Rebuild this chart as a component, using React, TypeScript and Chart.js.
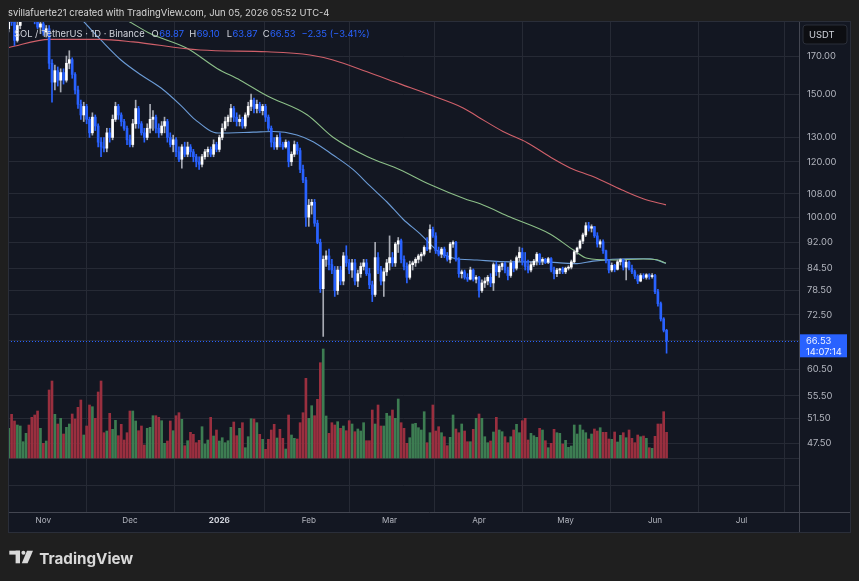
import React, { useEffect, useRef } from "react";
import { Chart, registerables } from "chart.js";

Chart.register(...registerables);

// Daily SOL/USDT candles. Day 0 = 1 Nov 2025; first candle = 20 Oct 2025 (day -12), last = 5 Jun 2026 (day 216).
const firstDay = -12;

const opens = [
  186, 194, 190, 179, 188, 196, 203, 205, 198, 195, 191, 187,
  189, 184, 186, 166, 156, 162, 157, 161, 157, 166, 168, 160,
  152, 145, 140, 144, 138, 132, 139, 135, 128, 126, 125.5, 132,
  130, 138, 144, 140, 137, 134, 129, 127, 136, 143, 136, 132,
  130, 134, 138, 139, 134, 132, 135, 137, 130, 127, 129, 124,
  121, 126, 123, 126, 124, 122, 120, 119, 122, 124, 125, 123,
  127, 125, 130, 134, 137, 139, 143, 139, 137, 138, 135, 140,
  144, 147, 143, 145, 142, 144, 139, 134, 128, 126, 130, 127,
  126, 128, 120, 123, 127, 124.5, 117, 113, 100, 104, 105, 98,
  92, 79, 87, 88, 85.5, 84, 78.5, 84, 81, 88, 86, 84,
  86, 81, 83, 85, 86, 83, 80, 77.5, 87.5, 84, 81, 83.5,
  86, 87.5, 86, 91.5, 92.5, 87, 85, 82, 85.5, 86, 87, 88,
  88.5, 90.5, 90, 96, 94, 89.5, 88.5, 90, 88, 87, 91.5, 92,
  87, 83, 83.5, 82, 81.5, 84, 81.5, 82, 78.5, 80.5, 81, 82,
  80.5, 85.5, 83.5, 85, 85.8, 84, 82.5, 86, 84.5, 87.5, 89, 86.5,
  85, 84, 85.5, 86.5, 88.5, 86.5, 87, 86.2, 87.2, 84, 83, 84,
  84.3, 83.5, 84.5, 84.8, 86.3, 89.2, 90.3, 92.4, 94.3, 97.2, 96.4, 96.9,
  94, 91.5, 92.2, 89.5, 86.8, 84, 85.3, 84.2, 86.3, 86.9, 84.8, 86.2,
  84.5, 83.5, 82.3, 81, 82.5, 82, 82.7, 82.2, 82.5, 78.2, 75.2, 71.5, 68.87,
];

const highs = [
  196, 197, 192, 190, 198, 206, 210, 208, 201, 197, 194, 191,
  190, 188, 188, 168, 165, 164, 163, 163, 170, 173, 169, 161,
  154, 147, 146, 145, 139, 141, 140, 136, 130, 130, 134, 134,
  140, 146, 145, 141, 138, 135, 131, 138, 147, 144, 137, 134,
  136, 145, 142, 140, 136, 137, 139, 138, 132, 131, 130, 126,
  127, 128, 128, 127, 125, 123, 122, 123, 125, 126, 126, 129,
  128, 131, 136, 139, 140, 145, 144, 141, 140, 139, 141, 146,
  150, 148, 147, 146, 145, 145, 140, 135, 130, 131, 132, 128,
  129, 128.5, 124, 128.5, 128, 125.5, 118.7, 114, 106, 106, 106, 99,
  93, 88, 89.5, 90, 87, 85, 85, 85, 89, 91, 87, 87,
  87, 84, 86, 87, 87, 84.5, 81, 92, 89, 85, 84.5, 87,
  94, 89, 92, 93.5, 93, 88, 86, 86.5, 86.5, 87.5, 88.5, 89,
  91, 93.5, 97.5, 96.8, 95, 90.6, 90.5, 90.6, 89, 92, 92.5, 92.3,
  87.5, 84, 84, 83, 84.8, 84.3, 82.5, 82.3, 81.3, 81.9, 82.5, 83,
  86, 86.3, 85.5, 86, 86.2, 84.8, 86.8, 86.5, 88, 90.6, 90.3, 89,
  86.8, 86.3, 87, 89, 88.7, 87.5, 87.3, 87.6, 87.5, 84.8, 84.5, 84.5,
  84.8, 84.8, 85.2, 86.8, 89.7, 90.6, 92.8, 94.9, 98.2, 98.3, 97.5, 97,
  95, 92.8, 92.8, 89.7, 87, 86, 85.6, 86.8, 87.2, 87, 86.8, 86.6,
  85.4, 84, 82.7, 83, 83, 83, 83, 83, 82.8, 78.8, 75.6, 71.8, 69.1,
];

const lows = [
  184, 188, 176, 178, 186, 194, 200, 196, 193, 189, 186, 183,
  182, 181, 163, 146, 152, 154, 151, 155, 156, 163, 158, 150,
  143, 138, 137, 136, 130, 131, 133, 126, 122, 124, 124, 128,
  129, 137, 138, 135, 133, 127, 126, 126, 134, 134, 131, 128,
  129, 132, 133, 132, 130, 131, 132, 128, 126, 124, 122, 120,
  117.5, 122, 122, 122, 120, 118, 117, 118, 121, 122, 122, 122,
  124, 124, 129, 133, 135, 137, 137, 135, 135, 134, 134, 139,
  142, 141, 141, 141, 140, 137, 133, 126, 125, 125, 126, 125,
  125.5, 118, 118.5, 122, 123, 115.8, 112, 97, 97, 101, 97, 91.6,
  78, 67.5, 85, 84, 83, 77, 77.5, 80, 80, 85, 83, 82,
  80, 79.5, 82, 84, 82.5, 79, 75.7, 77, 83, 80, 77, 82.5,
  84, 85, 85, 89, 86, 84, 80.5, 81.5, 84, 85, 86, 86.5,
  88, 89.5, 89, 93.5, 88.7, 88, 87.5, 87.5, 86.5, 86, 90.5, 86.5,
  82, 81.8, 81.5, 80.9, 81.3, 81, 80.5, 76.8, 78, 79.3, 80, 79.5,
  78.5, 82.5, 82, 84, 83.2, 81.3, 82, 83.5, 84, 86.5, 85.4, 84,
  83.2, 83.5, 85, 85.4, 85.5, 85.5, 85.8, 85.8, 83.5, 81.6, 82.2, 83,
  83, 83, 84, 84.3, 86, 88.5, 90, 91.6, 93.8, 95.5, 95.2, 93.5,
  90.6, 90.5, 88.7, 86, 83.2, 83.5, 83.5, 84, 85.4, 84, 81.3, 84,
  83, 81.6, 80.3, 80.8, 81.6, 81.5, 81.5, 81.8, 77.7, 74.6, 71, 68.5, 63.87,
];

const closes = [
  194, 190, 179, 188, 196, 203, 205, 198, 195, 191, 187, 189,
  184, 186, 166, 156, 162, 157, 161, 157, 166, 168, 160, 152,
  145, 140, 144, 138, 132, 139, 135, 128, 126, 125.5, 132, 130,
  138, 144, 140, 137, 134, 129, 127, 136, 143, 136, 132, 130,
  134, 138, 139, 134, 132, 135, 137, 130, 127, 129, 124, 121,
  126, 123, 126, 124, 122, 120, 119, 122, 124, 125, 123, 127,
  125, 130, 134, 137, 139, 143, 139, 137, 138, 135, 140, 144,
  147, 143, 145, 142, 144, 139, 134, 128, 126, 130, 127, 126,
  128, 120, 123, 127, 124.5, 117, 113, 100, 104, 105, 98, 92,
  79, 87, 88, 85.5, 84, 78.5, 84, 81, 88, 86, 84, 86,
  81, 83, 85, 86, 83, 80, 77.5, 87.5, 84, 81, 83.5, 86,
  87.5, 86, 91.5, 92.5, 87, 85, 82, 85.5, 86, 87, 88, 88.5,
  90.5, 90, 96, 94, 89.5, 88.5, 90, 88, 87, 91.5, 92, 87,
  83, 83.5, 82, 81.5, 84, 81.5, 82, 78.5, 80.5, 81, 82, 80.5,
  85.5, 83.5, 85, 85.8, 84, 82.5, 86, 84.5, 87.5, 89, 86.5, 85,
  84, 85.5, 86.5, 88.5, 86.5, 87, 86.2, 87.2, 84, 83, 84, 84.3,
  83.5, 84.5, 84.8, 86.3, 89.2, 90.3, 92.4, 94.3, 97.2, 96.4, 96.9, 94,
  91.5, 92.2, 89.5, 86.8, 84, 85.3, 84.2, 86.3, 86.9, 84.8, 86.2, 84.5,
  83.5, 82.3, 81, 82.5, 82, 82.7, 82.2, 82.5, 78.2, 75.2, 71.5, 68.88, 66.53,
];

const volumes = [
  29.7, 43.7, 37, 33, 32, 16.3, 24.7, 33, 40.7, 43, 47, 29.7,
  14.7, 17, 68, 77, 43.7, 34, 39.7, 24, 30.7, 34, 44, 39,
  50.7, 58, 23, 32, 53, 51.3, 39.7, 66, 77, 25.3, 27, 44.7,
  28.7, 37.7, 22.3, 33.7, 18, 25.3, 47, 47, 37, 27.3, 32, 13,
  29.7, 30.7, 42.3, 42.3, 40.7, 37.3, 14.7, 17, 37, 27.3, 42.3, 45.3,
  38.7, 12.3, 17.3, 25.7, 23.7, 15.3, 17.7, 31.3, 14, 18, 40.7, 22,
  28, 17, 20.3, 15.3, 17.3, 30.7, 36, 22.3, 29.7, 35.3, 10.3, 21.3,
  39.3, 39, 35.3, 23.7, 18.7, 8.7, 18.7, 28, 33.7, 20, 28.7, 19.7,
  9, 43, 23, 19.7, 19, 35.3, 45.3, 79.7, 39.7, 52.3, 42.3, 58.7,
  95.3, 109, 42, 24.7, 35.3, 33, 36.3, 29.7, 32, 27.3, 37.3, 34,
  26.3, 29, 27, 35.3, 17.3, 17.3, 48, 34, 53, 32, 32, 44.7,
  42, 48, 39.7, 59, 35.3, 29.7, 14.7, 20.3, 34, 34.7, 30.3, 28,
  46.3, 15.3, 25.3, 53, 27, 31.3, 25.3, 21.3, 12.3, 20.7, 43, 29,
  25.3, 34, 27, 16.3, 16.3, 28.7, 39.7, 44, 39.7, 21.3, 15.3, 17,
  26, 40.7, 28, 26.3, 21.3, 15.3, 21.3, 28, 33.7, 25.3, 37.3, 39.7,
  18, 24.7, 22.3, 20.7, 29.7, 28, 17.3, 10.3, 14.7, 28.7, 25.3, 24.7,
  14, 17.7, 10.7, 12, 33, 24, 33, 28, 25.3, 19, 24, 29,
  27, 30.3, 25.7, 25.7, 19, 18.7, 26, 16, 22.7, 25.3, 20.3, 28,
  19.7, 15.3, 23, 21.3, 22, 19.7, 10.3, 9.7, 21.7, 34, 34, 46.3, 25.7,
];

// Moving averages (day, value)
const maFastDays = [8, 13.8, 20, 26.9, 33.9, 40.8, 47.8, 52.6, 60.6, 72.7, 79.6, 87.9, 93.5, 100.4, 107.4, 113.2, 119.1, 124.7, 130.6, 136.5, 142, 150.3, 161.8, 173.2, 179.1, 185, 190.5, 202.3, 210.3, 215.8];
const maFastValues = [202, 190.8, 179.1, 167.8, 159.7, 153, 144.3, 137.9, 131.9, 132.3, 132.6, 131.1, 128.2, 122.7, 116.9, 110.8, 105.1, 99.3, 94.6, 89.6, 87.4, 86.8, 86.3, 86.3, 86, 85.8, 86.5, 87.2, 87.2, 85.9];
const maMidDays = [20, 29.4, 37, 49.8, 60.2, 68.2, 77.5, 91.4, 100.4, 112.2, 123.6, 134, 146.9, 151.4, 161.8, 175.6, 183.6, 188.5, 196.4, 207.9, 212.7, 215.8];
const maMidValues = [200, 190.8, 183.1, 174.4, 163.2, 157, 149.1, 140.1, 130.1, 122.1, 116.9, 111.3, 105.9, 104.5, 100, 94.6, 89.8, 87.3, 86.8, 87.1, 86.9, 85.9];
const maSlowDays = [-12.2, 2.3, 19.7, 31.1, 54.3, 77.5, 92.4, 100.4, 112.2, 123.6, 134, 145.5, 150.7, 159.3, 167.7, 176.7, 182.6, 190.5, 200.6, 207.9, 215.8];
const maSlowValues = [174.7, 179.6, 179.6, 178.1, 173.4, 172.4, 170.6, 167.8, 161.4, 155.1, 149.6, 143.3, 139.1, 132.6, 127.8, 121.2, 117.6, 114.3, 109.3, 106.2, 104.1];

const monthTickDays = [0, 30, 61, 92, 120, 151, 181, 212, 242];
const monthTickLabels = ["Nov", "Dec", "2026", "Feb", "Mar", "Apr", "May", "Jun", "Jul"];

const priceTicks = [170, 150, 130, 120, 108, 100, 92, 84.5, 78.5, 72.5, 66.5, 60.5, 55.5, 51.5, 47.5, 45.16, 41.37];
const priceTickLabels = ["170.00", "150.00", "130.00", "120.00", "108.00", "100.00", "92.00", "84.50", "78.50", "72.50", "", "60.50", "55.50", "51.50", "47.50", "", ""];

const headerText = "svillafuerte21 created with TradingView.com, Jun 05, 2026 05:52 UTC-4";
const symbolText = "SOL / TetherUS · 1D · Binance";
const countdownText = "14:07:14";
const currencyText = "USDT";

const FONT = "Inter, 'Noto Sans', 'DejaVu Sans', sans-serif";

export default function App() {
  const ref = useRef<HTMLCanvasElement>(null);

  useEffect(() => {
    const canvas = ref.current;
    if (!canvas) return;
    const mctx = document.createElement("canvas").getContext("2d")!;
    const fitSize = (text: string, weight: string, target: number) => {
      mctx.font = `${weight} 10px ${FONT}`;
      return (10 * target) / mctx.measureText(text).width;
    };
    const axisSize = fitSize("170.00", "400", 29);
    const timeSize = fitSize("Nov", "400", 15.5);
    const headerSize = fitSize(headerText, "400", 322);
    const legendSize = fitSize(symbolText, "400", 131);
    const logoSize = fitSize("TradingView", "700", 94);

    const n = closes.length;
    const days = closes.map((_, i) => firstDay + i);
    const up = closes.map((c, i) => c >= opens[i]);
    const last = n - 1;
    const lastClose = closes[last];
    const change = closes[last] - closes[last - 1];
    const changePct = (change / closes[last - 1]) * 100;
    const fmtSigned = (v: number) => (v < 0 ? "\u2212" : "+") + Math.abs(v).toFixed(2);

    const wickData = days.map((d, i) => ({ x: d, y: [lows[i], highs[i]] }));
    const bodyData = days.map((d, i) => ({ x: d, y: [Math.min(opens[i], closes[i]), Math.max(opens[i], closes[i])] }));
    const volData = days.map((d, i) => ({ x: d, y: volumes[i] }));
    const toPts = (ds: number[], vs: number[]) => ds.map((d, i) => ({ x: d, y: vs[i] }));

    const overlay = {
      id: "overlay",
      beforeDraw(chart: any) {
        const ctx = chart.ctx;
        const ys = chart.scales.y;
        const xs = chart.scales.x;
        ctx.save();
        ctx.fillStyle = "#1f1f1f";
        ctx.fillRect(0, 0, chart.width, chart.height);
        ctx.fillStyle = "#131722";
        ctx.fillRect(chart.chartArea.left, chart.chartArea.top, ys.right - chart.chartArea.left, xs.bottom - chart.chartArea.top);
        ctx.restore();
      },
      beforeDatasetsDraw(chart: any) {
        const ctx = chart.ctx;
        const a = chart.chartArea;
        const y = Math.round(chart.scales.y.getPixelForValue(lastClose)) + 0.5;
        ctx.save();
        ctx.strokeStyle = "#2962ff";
        ctx.lineWidth = 1;
        ctx.setLineDash([1, 2]);
        ctx.beginPath();
        ctx.moveTo(a.left, y);
        ctx.lineTo(a.right, y);
        ctx.stroke();
        ctx.restore();
      },
      afterDraw(chart: any) {
        const ctx = chart.ctx;
        const a = chart.chartArea;
        const ys = chart.scales.y;
        const xs = chart.scales.x;
        ctx.save();
        // separators
        ctx.strokeStyle = "#434651";
        ctx.lineWidth = 1;
        ctx.beginPath();
        ctx.moveTo(a.right + 0.5, a.top);
        ctx.lineTo(a.right + 0.5, xs.bottom);
        ctx.moveTo(a.left, a.bottom + 0.5);
        ctx.lineTo(ys.right, a.bottom + 0.5);
        ctx.stroke();
        ctx.strokeStyle = "#2a2e39";
        ctx.strokeRect(a.left + 0.5, a.top + 0.5, ys.right - a.left - 1, xs.bottom - a.top - 1);

        // price label
        const py = ys.getPixelForValue(lastClose);
        ctx.fillStyle = "#2962ff";
        ctx.fillRect(a.right + 1, py - 6.5, 47, 23);
        ctx.fillStyle = "#eef2ff";
        ctx.font = `400 ${axisSize}px ${FONT}`;
        ctx.textBaseline = "middle";
        ctx.textAlign = "left";
        ctx.fillText(lastClose.toFixed(2), a.right + 7, py + 0.5);
        ctx.fillText(countdownText, a.right + 7, py + 11);

        // currency box
        ctx.fillStyle = "#0d0e12";
        ctx.strokeStyle = "#2a2e39";
        ctx.beginPath();
        (ctx as any).roundRect(a.right + 4, 25, 44, 19, 3);
        ctx.fill();
        ctx.stroke();
        ctx.fillStyle = "#d1d4dc";
        ctx.font = `400 ${axisSize}px ${FONT}`;
        ctx.fillText(currencyText, a.right + 10, 35);

        // header
        ctx.fillStyle = "#d6d6d6";
        ctx.font = `400 ${headerSize}px ${FONT}`;
        ctx.fillText(headerText, 8, 13);

        // legend
        ctx.font = `400 ${legendSize}px ${FONT}`;
        const ly = 34;
        ctx.fillStyle = "#d1d4dc";
        ctx.fillText(symbolText, 14, ly);
        const parts: [string, number, number][] = [
          ["O", 151.5, opens[last]],
          ["H", 189.3, highs[last]],
          ["L", 226.7, lows[last]],
          ["C", 262.7, closes[last]],
        ];
        parts.forEach(([k, x, v]) => {
          ctx.fillStyle = "#d1d4dc";
          ctx.fillText(k, x, ly);
          const w = ctx.measureText(k).width;
          ctx.fillStyle = "#2962ff";
          ctx.fillText(v.toFixed(2), x + w + 0.5, ly);
        });
        ctx.fillStyle = "#2962ff";
        ctx.fillText(`${fmtSigned(change)} (${fmtSigned(changePct)}%)`, 301.5, ly);

        // TradingView logo
        ctx.fillStyle = "#d9d9d9";
        ctx.fillRect(9.3, 550.7, 10.7, 3.9);
        ctx.fillRect(15.6, 550.7, 4.4, 12.6);
        ctx.beginPath();
        ctx.arc(23.4, 552.7, 2, 0, Math.PI * 2);
        ctx.fill();
        ctx.beginPath();
        ctx.moveTo(27, 550.7);
        ctx.lineTo(33, 550.7);
        ctx.lineTo(27.6, 563.3);
        ctx.lineTo(21.8, 563.3);
        ctx.closePath();
        ctx.fill();
        ctx.font = `700 ${logoSize}px ${FONT}`;
        ctx.textBaseline = "alphabetic";
        ctx.fillText("TradingView", 39.3, 563.5);
        ctx.restore();
      },
    };

    const chart = new Chart(canvas, {
      type: "bar",
      data: {
        datasets: [
          {
            type: "bar",
            label: "Volume",
            data: volData as any,
            yAxisID: "yv",
            backgroundColor: up.map((u) => (u ? "#3d7d52" : "#9a2f3f")),
            barThickness: 2,
            grouped: false,
            order: 10,
          } as any,
          {
            type: "line",
            label: "MA slow",
            data: toPts(maSlowDays, maSlowValues) as any,
            yAxisID: "y",
            borderColor: "#d0606a",
            borderWidth: 1.1,
            pointRadius: 0,
            cubicInterpolationMode: "monotone",
            order: 6,
          } as any,
          {
            type: "line",
            label: "MA mid",
            data: toPts(maMidDays, maMidValues) as any,
            yAxisID: "y",
            borderColor: "#8cbf88",
            borderWidth: 1.1,
            pointRadius: 0,
            cubicInterpolationMode: "monotone",
            order: 6,
          } as any,
          {
            type: "line",
            label: "MA fast",
            data: toPts(maFastDays, maFastValues) as any,
            yAxisID: "y",
            borderColor: "#6b9bd6",
            borderWidth: 1.1,
            pointRadius: 0,
            cubicInterpolationMode: "monotone",
            order: 6,
          } as any,
          {
            type: "bar",
            label: "Wicks",
            data: wickData as any,
            yAxisID: "y",
            backgroundColor: up.map((u) => (u ? "#a7aab3" : "#2962ff")),
            barThickness: 1,
            grouped: false,
            order: 2,
          } as any,
          {
            type: "bar",
            label: "Bodies",
            data: bodyData as any,
            yAxisID: "y",
            backgroundColor: up.map((u) => (u ? "#ffffff" : "#2962ff")),
            barThickness: 2,
            minBarLength: 1,
            grouped: false,
            order: 1,
          } as any,
        ],
      },
      options: {
        responsive: false,
        animation: false,
        devicePixelRatio: 1,
        events: [],
        layout: { padding: { left: 8, top: 21, right: 8, bottom: 48 } },
        plugins: { legend: { display: false }, tooltip: { enabled: false } },
        scales: {
          x: {
            type: "linear",
            min: -12.25,
            max: 261.9,
            offset: false,
            afterBuildTicks: (scale: any) => {
              scale.ticks = monthTickDays.map((v) => ({ value: v }));
            },
            afterFit: (scale: any) => {
              scale.height = 21;
            },
            ticks: {
              autoSkip: false,
              maxRotation: 0,
              padding: 4,
              color: (ctx: any) => (ctx.tick && ctx.tick.value === 61 ? "#d1d4dc" : "#b2b5be"),
              font: (ctx: any) => ({ family: FONT, size: timeSize, weight: ctx.tick && ctx.tick.value === 61 ? "bold" : "normal" }),
              callback: (_v: any, i: number) => monthTickLabels[i],
            },
            grid: { color: "#262a35", drawTicks: false },
            border: { display: false },
          },
          y: {
            type: "logarithmic",
            position: "right",
            min: 37.85,
            max: 190.8,
            afterBuildTicks: (scale: any) => {
              scale.ticks = priceTicks.map((v) => ({ value: v }));
            },
            afterFit: (scale: any) => {
              scale.width = 52;
            },
            ticks: {
              autoSkip: false,
              padding: 8,
              color: "#b2b5be",
              font: { family: FONT, size: axisSize },
              callback: (value: any) => {
                const i = priceTicks.findIndex((t) => Math.abs(t - Number(value)) < 1e-6);
                return i >= 0 ? priceTickLabels[i] : "";
              },
            },
            grid: { color: "#262a35", drawTicks: false },
            border: { display: false },
          },
          yv: {
            type: "linear",
            display: false,
            min: -54,
            max: 437,
          },
        },
      } as any,
      plugins: [overlay],
    });

    return () => chart.destroy();
  }, []);

  return (
    <div style={{ position: "fixed", left: 0, top: 0, width: 859, height: 581, background: "#1f1f1f" }}>
      <canvas ref={ref} width={859} height={581} style={{ display: "block", width: 859, height: 581 }} />
    </div>
  );
}
